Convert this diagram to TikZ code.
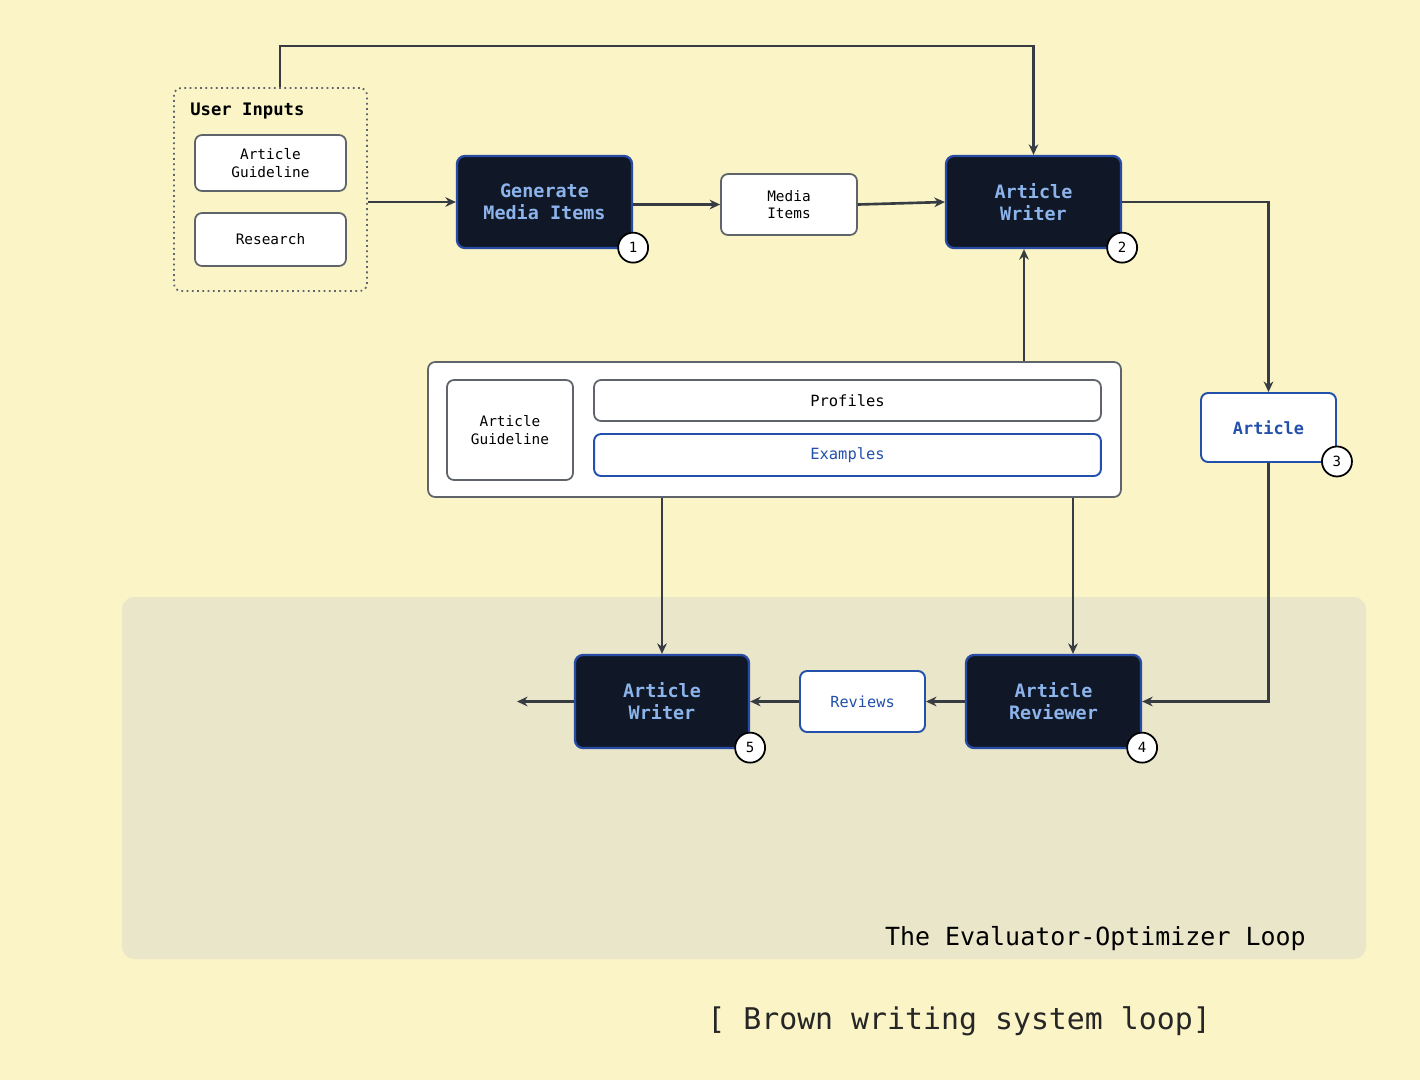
\documentclass[tikz,border=0pt]{standalone}
\usepackage{fontspec}
\setmonofont{DejaVu Sans Mono}
\usetikzlibrary{arrows.meta, positioning, calc}
\definecolor{paper}{RGB}{251,244,198}
\definecolor{loopbg}{RGB}{233,230,201}
\definecolor{navy}{RGB}{16,24,40}
\definecolor{boxblue}{RGB}{40,75,165}
\definecolor{skyblue}{RGB}{140,180,235}
\definecolor{inkblue}{RGB}{35,80,170}
\definecolor{wire}{RGB}{55,60,66}
\definecolor{edge}{RGB}{95,100,106}

\begin{document}
\begin{tikzpicture}[x=0.02cm, y=-0.02cm, >=Stealth, font=\ttfamily,
    darkbox/.style = {rectangle, rounded corners=4.5pt, draw=boxblue, line width=1.3pt, fill=navy, text=skyblue, align=center, inner sep=0pt,
        minimum width=3.5cm, minimum height=1.84cm, font=\ttfamily\bfseries\fontsize{10.5}{12.5}\selectfont},
    whitebox/.style = {rectangle, rounded corners=4pt, draw=edge, line width=1pt, fill=white, text=black, align=center, inner sep=0pt,
        font=\ttfamily\fontsize{8.2}{10}\selectfont},
    bluebox/.style = {whitebox, draw=inkblue, text=inkblue, line width=1.1pt},
    badge/.style = {circle, draw=black, line width=1pt, fill=white, minimum size=0.6cm, inner sep=0pt, font=\ttfamily\fontsize{8}{9}\selectfont},
    arrow/.style = {line width=1.5pt, draw=wire, -{Stealth[length=6pt, width=5.5pt]}}]
        % Background
        \fill[paper] (0,0) rectangle (1420,1080);
        \useasboundingbox (0,0) rectangle (1420,1080);
        \fill[loopbg, rounded corners=7pt] (122,597) rectangle (1366,959);

        % Nodes
        \node (inputs) [rectangle, rounded corners=4pt, draw=edge, dotted, line width=1pt, minimum width=3.86cm, minimum height=4.06cm] at (270.5,189.5) {};
        \node (inputstitle) [anchor=west, inner sep=0pt, font=\ttfamily\bfseries\fontsize{9.8}{11}\selectfont] at (190,111) {User Inputs};
        \node (guide1) [whitebox, minimum width=3.02cm, minimum height=1.12cm] at (270.5,163) {Article\\Guideline};
        \node (research) [whitebox, minimum width=3.02cm, minimum height=1.06cm] at (270.5,239.5) {Research};
        \node (gen) [darkbox] at (544.5,202) {Generate\\Media Items};
        \node (media) [whitebox, minimum width=2.72cm, minimum height=1.22cm] at (789,204.5) {Media\\Items};
        \node (writer) [darkbox] at (1033.5,202) {Article\\Writer};
        \node (art) [bluebox, minimum width=2.7cm, minimum height=1.38cm, font=\ttfamily\bfseries\fontsize{9.6}{11}\selectfont] at (1268.5,427.5) {Article};
        \node (ctx) [whitebox, minimum width=13.86cm, minimum height=2.7cm] at (774.5,429.5) {};
        \node (guide2) [whitebox, minimum width=2.52cm, minimum height=2cm] at (510,430) {Article\\Guideline};
        \node (profiles) [whitebox, minimum width=10.14cm, minimum height=0.82cm, font=\ttfamily\fontsize{8.8}{10}\selectfont] at (847.5,400.5) {Profiles};
        \node (examples) [bluebox, minimum width=10.14cm, minimum height=0.84cm, font=\ttfamily\fontsize{8.8}{10}\selectfont] at (847.5,455) {Examples};
        \node (wr5) [darkbox, minimum width=3.48cm, minimum height=1.86cm] at (662,701.5) {Article\\Writer};
        \node (reviews) [bluebox, minimum width=2.5cm, minimum height=1.22cm, font=\ttfamily\fontsize{8.7}{10}\selectfont] at (862.5,701.5) {Reviews};
        \node (rev) [darkbox, minimum height=1.86cm] at (1053.5,701.5) {Article\\Reviewer};

        % Badges
        \node (b1) [badge] at ([yshift=0.03cm]gen.south east) {1};
        \node (b2) [badge] at ([yshift=0.03cm]writer.south east) {2};
        \node (b3) [badge] at ([yshift=0.03cm]art.south east) {3};
        \node (b4) [badge] at ([yshift=0.03cm]rev.south east) {4};
        \node (b5) [badge] at ([yshift=0.03cm]wr5.south east) {5};

        % Labels
        \node (looptitle) [anchor=east, inner sep=0pt, font=\ttfamily\fontsize{14.2}{16}\selectfont] at (1306,939) {The Evaluator-Optimizer Loop};
        \node (caption) [anchor=west, inner sep=0pt, text=black!85, font=\ttfamily\fontsize{17}{19}\selectfont] at (707,1021) {[ Brown writing system loop]};

        % Helper points
        \coordinate (topline) at (0,46);
        \coordinate (uin) at ([xshift=0.19cm]inputs.north);
        \coordinate (wrin) at ([xshift=-0.19cm]writer.south);
        \coordinate (revin) at ([xshift=0.39cm]rev.north);
        \coordinate (loopout) at (517,701.5);

        % Arrows
        \draw [arrow] (inputs.east |- gen.west) -- (gen.west);
        \draw [arrow] (gen.east |- media.west) -- (media.west);
        \draw [arrow] (media.east) -- (writer.west);
        \draw [arrow] (uin) -- (uin |- topline) -| (writer.north);
        \draw [arrow] (writer.east) -| (art.north);
        \draw [arrow] (art.south) |- (rev.east);
        \draw [arrow] (ctx.north -| wrin) -- (wrin);
        \draw [arrow] (ctx.south -| wr5.north) -- (wr5.north);
        \draw [arrow] (ctx.south -| revin) -- (revin);
        \draw [arrow] (rev.west) -- (reviews.east);
        \draw [arrow] (reviews.west) -- (wr5.east);
        \draw [arrow] (wr5.west) -- (loopout);
    \end{tikzpicture}
\end{document}
